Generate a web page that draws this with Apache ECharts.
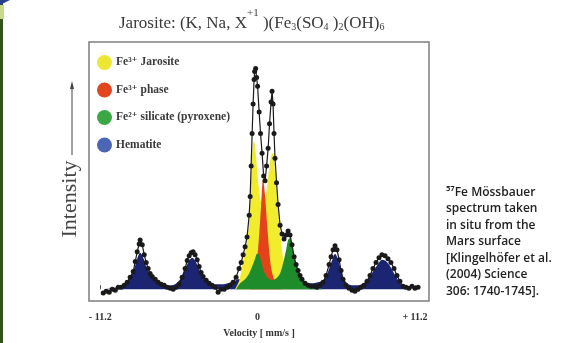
<!DOCTYPE html>
<html>
<head>
<meta charset="utf-8">
<script src="https://cdn.jsdelivr.net/npm/echarts@6/dist/echarts.min.js"></script>
<style>
  html, body { margin: 0; padding: 0; background: #fff; }
  #chart { width: 568px; height: 343px; }
</style>
</head>
<body>
<div id="chart"></div>
<script>
// velocity [mm/s], intensity (arbitrary units above baseline)
const spectrum = [
  [-10.99, -4], [-10.78, -2], [-10.56, -3], [-10.35, 0], [-10.13, -1], [-9.92, 2], [-9.71, 2],
  [-9.49, 4], [-9.28, 7], [-9.07, 12], [-8.85, 18], [-8.71, 28], [-8.57, 38], [-8.43, 46],
  [-8.36, 50], [-8.21, 45], [-8.07, 35], [-7.93, 27], [-7.79, 21], [-7.65, 16], [-7.50, 13],
  [-7.29, 10], [-7.08, 7], [-6.86, 5], [-6.65, 4], [-6.44, 2], [-6.22, 1], [-6.01, 0],
  [-5.80, 2], [-5.58, 5], [-5.37, 12], [-5.16, 21], [-5.01, 29], [-4.87, 34], [-4.73, 37],
  [-4.59, 38], [-4.45, 35], [-4.30, 30], [-4.16, 23], [-4.02, 17], [-3.88, 13], [-3.66, 9],
  [-3.45, 6], [-3.24, 4], [-3.02, 2], [-2.81, -3], [-2.60, 0], [-2.38, 0], [-2.17, 2],
  [-1.96, 4], [-1.74, 7], [-1.53, 12], [-1.32, 21], [-1.17, 27], [-1.03, 35], [-0.89, 43],
  [-0.75, 53], [-0.60, 75], [-0.53, 94], [-0.46, 125], [-0.39, 158], [-0.32, 188], [-0.25, 213],
  [-0.21, 221], [-0.14, 224], [-0.07, 215], [0.00, 206], [0.11, 180], [0.21, 158], [0.32, 138],
  [0.43, 115], [0.53, 110], [0.64, 125], [0.75, 143], [0.85, 168], [0.96, 190], [1.03, 201],
  [1.10, 188], [1.17, 158], [1.24, 133], [1.35, 108], [1.46, 86], [1.60, 65], [1.74, 56],
  [1.88, 51], [2.03, 55], [2.17, 59], [2.31, 55], [2.45, 45], [2.60, 33], [2.74, 25],
  [2.88, 19], [3.02, 14], [3.16, 10], [3.38, 6], [3.59, 4], [3.80, 3], [4.02, 3], [4.23, 2],
  [4.45, 4], [4.66, 7], [4.87, 14], [5.09, 25], [5.23, 33], [5.37, 40], [5.51, 44], [5.65, 40],
  [5.80, 30], [5.94, 19], [6.08, 10], [6.29, 4], [6.51, 1], [6.72, -1], [6.93, -2], [7.15, 0],
  [7.36, 2], [7.57, 4], [7.79, 8], [8.00, 14], [8.21, 21], [8.43, 27], [8.64, 32], [8.85, 35],
  [9.07, 34], [9.28, 31], [9.49, 27], [9.71, 21], [9.92, 14], [10.13, 8], [10.35, 3],
  [10.56, 2], [10.77, 1], [10.99, 3], [11.20, 1], [11.42, 2]
];

const hematite = [
  [-10.99, 0], [-10.35, 1], [-9.78, 3], [-9.42, 6], [-9.07, 12], [-8.78, 21], [-8.57, 31],
  [-8.36, 37], [-8.14, 32], [-7.93, 23], [-7.65, 15], [-7.29, 9], [-6.93, 6], [-6.58, 4],
  [-6.22, 4], [-5.87, 5], [-5.51, 10], [-5.23, 18], [-4.94, 27], [-4.66, 32], [-4.45, 29],
  [-4.16, 20], [-3.88, 12], [-3.52, 7], [-3.02, 5], [-2.52, 5], [-2.10, 6], [-1.67, 8],
  [-1.39, 10], [-1.10, 10], [-0.82, 9], [-0.53, 7], [0.04, 6], [0.60, 6], [1.17, 7], [1.60, 8],
  [2.03, 7], [2.45, 6], [2.88, 6], [3.38, 6], [3.88, 6], [4.30, 7], [4.66, 9], [4.94, 15],
  [5.16, 24], [5.37, 32], [5.51, 36], [5.65, 33], [5.87, 23], [6.08, 13], [6.37, 6], [6.72, 4],
  [7.08, 4], [7.43, 5], [7.79, 9], [8.07, 15], [8.36, 21], [8.64, 27], [8.85, 30], [9.07, 29],
  [9.35, 25], [9.64, 18], [9.92, 11], [10.21, 5], [10.49, 2], [10.85, 0], [11.42, 0]
];

const jarosite = [
  [-1.60, 0], [-1.32, 8], [-1.17, 18], [-1.03, 28], [-0.89, 38], [-0.75, 48], [-0.60, 68],
  [-0.53, 86], [-0.46, 112], [-0.39, 135], [-0.32, 148], [-0.25, 150], [-0.14, 140],
  [-0.04, 122], [0.11, 100], [0.25, 88], [0.39, 84], [0.53, 90], [0.68, 105], [0.82, 122],
  [0.96, 135], [1.06, 138], [1.17, 130], [1.24, 118], [1.35, 100], [1.46, 80], [1.60, 58],
  [1.74, 40], [1.88, 26], [2.03, 16], [2.31, 6], [2.67, 0]
];

const fe3Phase = [
  [-0.53, 0], [-0.25, 10], [-0.04, 30], [0.11, 55], [0.25, 85], [0.39, 112], [0.53, 95],
  [0.68, 65], [0.82, 40], [0.96, 22], [1.17, 10], [1.46, 3], [1.74, 0]
];

const pyroxene = [
  [-1.53, 0], [-1.24, 6], [-0.89, 10], [-0.60, 16], [-0.39, 23], [-0.18, 31], [-0.04, 36],
  [0.11, 35], [0.25, 28], [0.46, 18], [0.75, 11], [1.03, 9], [1.32, 11], [1.60, 16], [1.81, 26],
  [2.03, 40], [2.17, 50], [2.31, 52], [2.45, 44], [2.67, 30], [2.88, 20], [3.09, 13], [3.38, 8],
  [3.73, 5], [4.16, 3], [4.59, 0]
];

const tickValues = [-11.2, 0, 11.2];
const tickLabels = ['- 11.2', '0', '+ 11.2'];
const legendNames = ['Fe³⁺ Jarosite', 'Fe³⁺ phase', 'Fe²⁺ silicate (pyroxene)', 'Hematite'];
const legendColors = ['#ede733', '#e2461f', '#3aa945', '#4a66b4'];
const fillColors = ['#f1ec2c', '#e4431a', '#1f8c2c', '#1c2572'];
const noteLines = [
  '⁵⁷Fe Mössbauer',
  'spectrum taken',
  'in situ from the',
  'Mars surface',
  '[Klingelhöfer et al.',
  '(2004) Science',
  '306: 1740-1745].'
];

const serif = '"Liberation Serif", "DejaVu Serif", serif';

function areaSeries(name, data, color) {
  return {
    name: name,
    type: 'line',
    data: data,
    smooth: 0.3,
    symbol: 'none',
    lineStyle: { width: 0 },
    itemStyle: { color: color },
    areaStyle: { color: color, opacity: 1 },
    silent: true
  };
}

const chart = echarts.init(document.getElementById('chart'));
chart.setOption({
  backgroundColor: '#ffffff',
  animation: false,
  title: {
    left: 114,
    top: 3,
    text: '{t|Jarosite: (K, Na, X}{sup|+1}{t| )(Fe}{sub|3}{t|(SO}{sub|4}{t| )}{sub|2}{t|(OH)}{sub|6}',
    textStyle: {
      rich: {
        t: { fontFamily: serif, fontSize: 17, fontWeight: 'normal', color: '#3a3a3a', verticalAlign: 'bottom', lineHeight: 24 },
        sup: { fontFamily: serif, fontSize: 11, fontWeight: 'normal', color: '#3a3a3a', verticalAlign: 'top', lineHeight: 24 },
        sub: { fontFamily: serif, fontSize: 10, fontWeight: 'normal', color: '#3a3a3a', verticalAlign: 'bottom', lineHeight: 19 }
      }
    }
  },
  grid: {
    left: 89, right: 139, top: 42, bottom: 38,
    show: true, borderColor: '#7d7d7d', borderWidth: 1.5, backgroundColor: '#ffffff'
  },
  legend: {
    orient: 'vertical',
    left: 92,
    top: 50,
    itemWidth: 15,
    itemHeight: 15,
    itemGap: 12.5,
    selectedMode: false,
    data: legendNames.map((n, i) => ({ name: n, icon: 'circle', itemStyle: { color: legendColors[i] } })),
    textStyle: { fontFamily: serif, fontSize: 11.5, fontWeight: 'bold', color: '#3a3a3a', padding: [0, 0, 0, -1] }
  },
  xAxis: {
    type: 'value',
    min: -12,
    max: 12.2,
    name: 'Velocity [ mm/s ]',
    nameLocation: 'middle',
    nameGap: 27,
    nameTextStyle: { fontFamily: serif, fontSize: 10, fontWeight: 'bold', color: '#333' },
    axisLine: { show: false },
    splitLine: { show: false },
    axisTick: { show: true, inside: true, length: 4, customValues: tickValues, lineStyle: { color: '#555' } },
    axisLabel: {
      customValues: tickValues,
      margin: 11,
      fontFamily: serif, fontSize: 10, fontWeight: 'bold', color: '#333',
      formatter: v => tickLabels[tickValues.indexOf(v)]
    }
  },
  yAxis: {
    type: 'value',
    min: -12,
    max: 251,
    show: false
  },
  series: [
    areaSeries('Hematite', hematite, fillColors[3]),
    areaSeries('Fe³⁺ Jarosite', jarosite, fillColors[0]),
    areaSeries('Fe³⁺ phase', fe3Phase, fillColors[1]),
    areaSeries('Fe²⁺ silicate (pyroxene)', pyroxene, fillColors[2]),
    {
      name: 'spectrum',
      type: 'line',
      data: spectrum,
      symbol: 'circle',
      symbolSize: 5,
      lineStyle: { color: '#1a1a1a', width: 1.2 },
      itemStyle: { color: '#1a1a1a' },
      z: 5
    }
  ],
  graphic: [
    { type: 'rect', shape: { x: 0, y: 0, width: 3, height: 343 }, style: { fill: '#34521b' } },
    { type: 'rect', shape: { x: 0, y: 5, width: 4, height: 14 }, style: { fill: '#c9d98c' } },
    { type: 'polygon', shape: { points: [[0, 0], [10, 0], [0, 5]] }, style: { fill: '#2b3f8f' } },
    {
      type: 'text', x: 70, y: 199, rotation: Math.PI / 2,
      style: { text: 'Intensity', font: '22px ' + serif, fill: '#444', align: 'center', verticalAlign: 'middle' }
    },
    { type: 'line', shape: { x1: 72, y1: 155, x2: 72, y2: 88 }, style: { stroke: '#444', lineWidth: 1 } },
    { type: 'polygon', shape: { points: [[72, 81], [70, 89], [74, 89]] }, style: { fill: '#444' } },
    {
      type: 'text', x: 446, y: 184,
      style: {
        text: noteLines.join('\n'),
        font: '600 12px "Open Sans", sans-serif',
        fill: '#222',
        lineHeight: 16.5
      }
    }
  ]
});
</script>
</body>
</html>
